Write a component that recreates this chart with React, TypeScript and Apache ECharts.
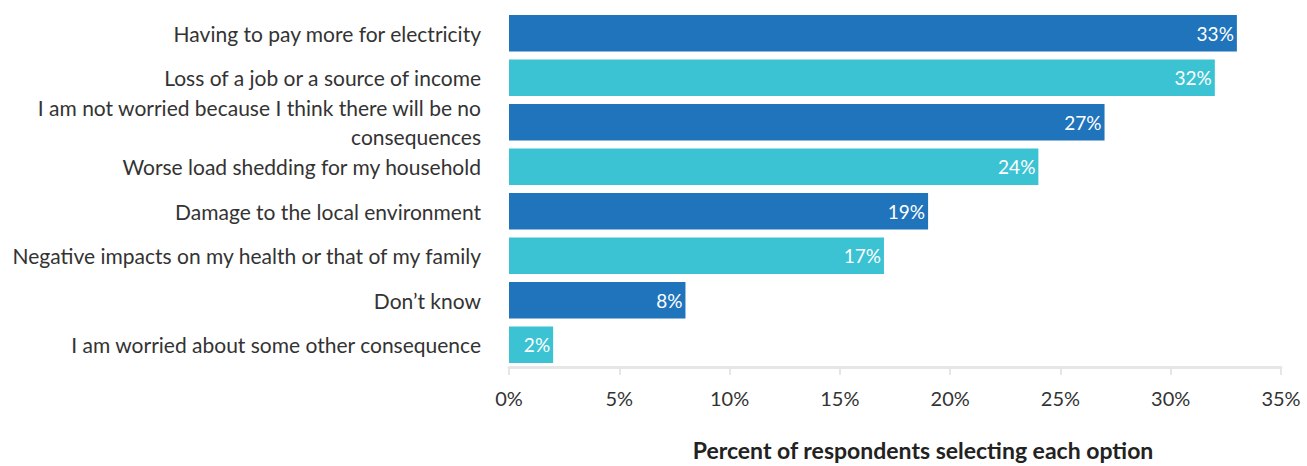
import React, { useEffect, useRef } from "react";
import * as echarts from "echarts";

const categories = [
  "Having to pay more for electricity",
  "Loss of a job or a source of income",
  "I am not worried because I think there will be no consequences",
  "Worse load shedding for my household",
  "Damage to the local environment",
  "Negative impacts on my health or that of my family",
  "Don\u2019t know",
  "I am worried about some other consequence",
];
const values = [33, 32, 27, 24, 19, 17, 8, 2];
const colors = ["#1f74bc", "#3bc3d3"];
const xTicks = [0, 5, 10, 15, 20, 25, 30, 35];
const axisTitle = "Percent of respondents selecting each option";

function wrap(s: string, max: number): string {
  const words = s.split(" ");
  const lines: string[] = [];
  let cur = "";
  for (const w of words) {
    if (cur && (cur + " " + w).length > max) {
      lines.push(cur);
      cur = w;
    } else {
      cur = cur ? cur + " " + w : w;
    }
  }
  if (cur) lines.push(cur);
  return lines.join("\n");
}

export default function App() {
  const ref = useRef<HTMLDivElement>(null);
  useEffect(() => {
    if (!ref.current) return;
    const chart = echarts.init(ref.current, undefined, { renderer: "svg" });
    const font = "Lato";
    chart.setOption({
      animation: false,
      textStyle: { fontFamily: font },
      grid: { left: 509, right: 26, top: 11, bottom: 82, containLabel: false },
      xAxis: {
        type: "value",
        min: xTicks[0],
        max: xTicks[xTicks.length - 1],
        interval: 5,
        splitLine: { show: false },
        axisLine: { show: true, lineStyle: { color: "#e6e6e6", width: 3 } },
        axisTick: { show: true, length: 8, lineStyle: { color: "#e6e6e6", width: 2 } },
        axisLabel: { formatter: "{value}%", fontSize: 20, color: "#333", margin: 21, fontFamily: font },
        name: axisTitle,
        nameLocation: "middle",
        nameGap: 71,
        nameTextStyle: {
          fontSize: 23,
          color: "#222",
          fontFamily: font,
          fontWeight: "bold",
          padding: [0, 0, 0, 56],
        },
      },
      yAxis: {
        type: "category",
        inverse: true,
        data: categories,
        axisLine: { show: false },
        axisTick: { show: false },
        axisLabel: {
          fontSize: 21,
          color: "#333",
          margin: 28,
          lineHeight: 29,
          fontFamily: font,
          formatter: (v: string) => wrap(v, 50),
        },
      },
      series: [
        {
          type: "bar",
          data: values.map((v, i) => ({ value: v, itemStyle: { color: colors[i % 2] } })),
          barCategoryGap: "18%",
          label: {
            show: true,
            position: "insideRight",
            distance: 3,
            color: "#fff",
            fontSize: 19,
            fontFamily: font,
            formatter: "{c}%",
          },
        },
      ],
    });
    return () => chart.dispose();
  }, []);
  return (
    <div
      ref={ref}
      style={{ position: "fixed", left: 0, top: 0, width: 1307, height: 466, background: "#fff" }}
    />
  );
}
